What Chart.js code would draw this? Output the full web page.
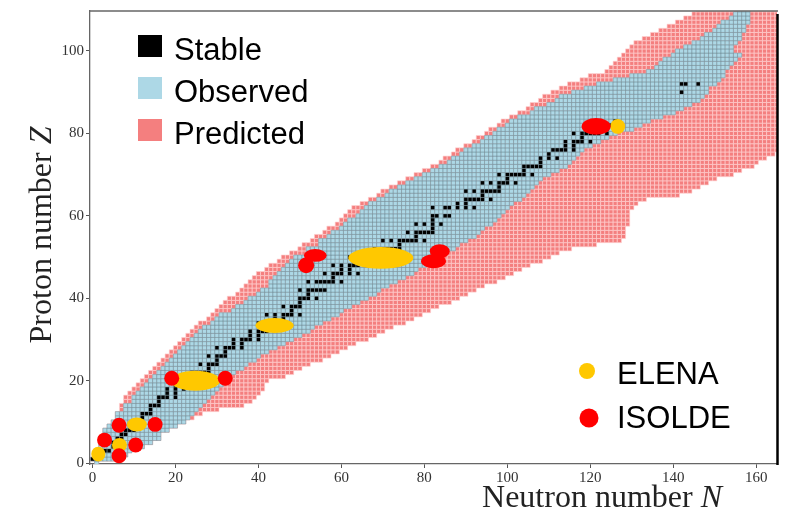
<!DOCTYPE html>
<html>
<head>
<meta charset="utf-8">
<script src="https://cdn.jsdelivr.net/npm/chart.js@4.4.0/dist/chart.umd.min.js"></script>
<style>
  html, body { margin: 0; padding: 0; background: #fff; }
</style>
</head>
<body>
<canvas id="myChart" width="789" height="515"></canvas>
<script>
// nuclide chart: for every proton number Z (index) the range of neutron numbers N

// predicted region (pink), lowest and highest N per Z
const predMin = [1,0,1,1,2,2,2,3,3,4,
  5,6,6,7,7,8,8,9,10,11,
  12,13,14,15,16,17,18,19,20,21,
  22,23,24,25,26,28,29,30,31,32,
  33,35,36,37,38,39,40,42,43,45,
  46,48,50,51,53,54,56,57,59,60,
  61,62,63,65,67,69,70,72,74,76,
  78,80,82,84,85,87,88,90,92,93,
  95,96,98,99,101,103,105,106,108,109,
  111,113,115,118,120,124,125,126,127,128,
  129,130,131,133,135,137,139,141,143,145,
  146];
const predMax = [1,6,8,9,12,14,16,16,18,20,
  22,24,26,30,36,38,39,40,41,41,
  42,46,48,50,52,55,57,59,61,63,
  66,68,70,72,75,77,79,81,83,86,
  88,90,92,94,97,99,101,103,105,108,
  110,112,115,121,127,128,128,128,129,129,
  129,129,130,131,133,141,144,146,148,150,
  154,156,159,160,162,164,170,170,170,170,
  170,170,170,170,170,170,170,170,170,170,
  170,170,170,170,170,170,170,170,170,170,
  170,170,170,170,170,170,170,170,170,170,
  170];

// observed region (light blue)
const obsMin = [1,0,1,1,2,2,2,3,3,4,
  5,6,6,8,8,10,10,11,12,13,
  14,15,16,17,18,19,20,21,22,23,
  24,25,26,27,29,30,31,34,35,37,
  38,40,41,43,43,44,45,46,47,48,
  49,52,52,55,55,57,58,60,61,62,
  64,65,66,67,69,71,72,74,76,78,
  80,82,84,86,87,89,90,92,94,95,
  97,98,100,101,103,106,107,110,112,113,
  116,119,122,126,130,134,136,137,138,140,
  141,143,145,147,148,150,151,152,154,155,
  156];
const obsMax = [1,6,8,9,12,14,16,16,18,20,
  22,23,24,25,26,27,28,29,30,31,
  32,33,34,36,37,39,40,42,44,46,
  48,50,52,53,55,57,59,60,62,64,
  66,68,69,71,73,75,77,78,80,82,
  84,85,87,88,90,92,93,94,96,97,
  98,99,100,101,103,104,105,106,107,108,
  110,112,114,115,116,117,118,120,122,124,
  126,130,132,134,137,140,142,144,146,147,
  148,148,150,151,152,152,153,154,155,156,
  154,154,155,156,156,157,157,158,158,158,
  158];

// stable nuclides: N values for each Z
const stableN = [[],[0,1],[1,2],[3,4],[5],[5,6],[6,7],[7,8],[8,9,10],[10],
  [10,11,12],[12],[12,13,14],[14],[14,15,16],[16],[16,17,18,20],[18,20],[18,20,22],[20,22],
  [20,22,23,24,26,28],[24],[24,25,26,27,28],[28],[26,28,29,30],[30],[28,30,31,32],[32],[30,32,33,34,36],[34,36],
  [34,36,37,38,40],[38,40],[38,40,41,42],[42],[40,42,43,44,46],[44,46],[42,44,46,47,48,50],[48],[46,48,49,50],[50],
  [50,51,52,54],[52],[50,52,53,54,55,56],[],[52,54,55,56,57,58,60],[58],[56,58,59,60,62,64],[60,62],[58,60,62,63,64,66],[64],
  [62,64,65,66,67,68,69,70,72,74],[70,72],[68,70,71,72,73,74],[74],[70,72,74,75,76,77,78,80],[78],[76,78,79,80,81,82],[82],[78,80,82,84],[82],
  [82,83,85,86],[],[82,85,86,88,90,92],[88,90],[90,91,92,93,94,96],[94],[90,92,94,95,96,97,98],[98],[94,96,98,99,100,102],[100],
  [98,100,101,102,103,104,106],[104],[104,105,106,107,108],[108],[108,110,112],[110],[111,112,113,114,116],[114,116],[114,116,117,118,120],[118],
  [116,118,119,120,121,122,124],[122,124],[122,124,125,126],[126],[],[],[],[],[],[],
  [142],[],[142,143,146]];

// facilities: centre (N, Z) and extent in N / Z units
const elenaN = [1.4, 6.5, 10.7, 24.8, 43.9, 69.5, 126.6];
const elenaZ = [2.2, 4.4, 9.4, 20.0, 33.4, 49.8, 81.7];
const elenaW = [3.4, 3.6, 4.8, 12.0, 9.2, 15.7, 3.6];
const elenaH = [3.6, 3.4, 3.4, 4.8, 3.6, 5.3, 3.6];

const isoldeN = [2.9, 6.4, 10.4, 6.4, 15.1, 19.1, 32.0, 53.7, 51.5, 83.7, 82.2, 121.4];
const isoldeZ = [5.6, 1.8, 4.4, 9.2, 9.4, 20.6, 20.6, 50.4, 48.0, 51.4, 49.0, 81.7];
const isoldeW = [3.6, 3.6, 3.6, 3.6, 3.6, 3.6, 3.6, 5.5, 3.9, 4.8, 6.0, 7.0];
const isoldeH = [3.6, 3.6, 3.6, 3.6, 3.6, 3.6, 3.6, 3.1, 3.8, 3.4, 3.4, 4.1];

const xTicks = [0, 20, 40, 60, 80, 100, 120, 140, 160];
const yTicks = [0, 20, 40, 60, 80, 100];

// turn the N ranges into one cell per nuclide
function cells(lo, hi) {
    let pts = [];
    for (let z = 0; z < lo.length; z++) {
        for (let n = lo[z]; n <= hi[z]; n++) pts.push({ x: n, y: z });
    }
    return pts;
}
let stablePts = [];
stableN.forEach((list, z) => list.forEach(n => stablePts.push({ x: n, y: z })));

const ellipseData = (ns, zs, ws, hs) => ns.map((n, i) => ({ x: n, y: zs[i], w: ws[i], h: hs[i] }));

// cell side in pixels follows the x scale
function cellRadius(frac) {
    return function (ctx) {
        const s = ctx.chart.scales.x;
        return Math.abs(s.getPixelForValue(1) - s.getPixelForValue(0)) * frac / Math.SQRT2;
    };
}

const YELLOW = '#ffc800';
const RED = '#ff0000';
const BLUE = '#add8e6';
const PINK = '#f47f7f';

const ellipsePlugin = {
    id: 'ellipses',
    afterDatasetsDraw(chart) {
        const ctx = chart.ctx;
        const xs = chart.scales.x, ys = chart.scales.y;
        const pxN = Math.abs(xs.getPixelForValue(1) - xs.getPixelForValue(0));
        const pxZ = Math.abs(ys.getPixelForValue(1) - ys.getPixelForValue(0));
        chart.data.datasets.forEach((ds, i) => {
            if (!ds.ellipse) return;
            const meta = chart.getDatasetMeta(i);
            ctx.save();
            ctx.fillStyle = ds.backgroundColor;
            meta.data.forEach((pt, j) => {
                const d = ds.data[j];
                ctx.beginPath();
                ctx.ellipse(pt.x, pt.y, d.w * pxN / 2, d.h * pxZ / 2, 0, 0, Math.PI * 2);
                ctx.fill();
            });
            ctx.restore();
        });
    }
};

// frame, axis titles and the two legends
const decorPlugin = {
    id: 'decor',
    afterDraw(chart) {
        const ctx = chart.ctx;
        const a = chart.chartArea;
        ctx.save();
        ctx.strokeStyle = '#666';
        ctx.lineWidth = 1.3;
        ctx.beginPath();
        ctx.moveTo(a.left, a.top);
        ctx.lineTo(a.right + 1, a.top);
        ctx.stroke();
        ctx.strokeStyle = '#000';
        ctx.lineWidth = 2.5;
        ctx.beginPath();
        ctx.moveTo(a.right + 0.5, a.top + 3);
        ctx.lineTo(a.right + 0.5, a.bottom + 1);
        ctx.stroke();

        // axis titles
        ctx.fillStyle = '#222';
        ctx.textBaseline = 'alphabetic';
        ctx.textAlign = 'left';
        const up = '32px "Liberation Serif"', it = 'italic 32px "Liberation Serif"';
        ctx.font = up;
        let w1 = ctx.measureText('Neutron number ').width;
        ctx.font = it;
        let w2 = ctx.measureText('N').width;
        let x0 = 602 - (w1 + w2) / 2;
        ctx.font = up;
        ctx.fillText('Neutron number ', x0, 507);
        ctx.font = it;
        ctx.fillText('N', x0 + w1, 507);

        ctx.save();
        ctx.translate(51, 235);
        ctx.rotate(-Math.PI / 2);
        ctx.font = up;
        w1 = ctx.measureText('Proton number ').width;
        ctx.font = it;
        w2 = ctx.measureText('Z').width;
        x0 = -(w1 + w2) / 2;
        ctx.font = up;
        ctx.fillText('Proton number ', x0, 0);
        ctx.font = it;
        ctx.fillText('Z', x0 + w1, 0);
        ctx.restore();

        // legend of the regions
        const rows = [['Stable', '#000', 60], ['Observed', BLUE, 102], ['Predicted', PINK, 144]];
        ctx.font = '31px "Liberation Sans"';
        rows.forEach(r => {
            ctx.fillStyle = r[1];
            ctx.fillRect(138, r[2] - 25, 24, 22);
            ctx.fillStyle = '#000';
            ctx.fillText(r[0], 174, r[2]);
        });

        // legend of the facilities
        const fac = [['ELENA', YELLOW, 587, 371, 8, 384], ['ISOLDE', RED, 589, 418, 9.5, 428]];
        fac.forEach(f => {
            ctx.fillStyle = f[1];
            ctx.beginPath();
            ctx.arc(f[2], f[3], f[4], 0, Math.PI * 2);
            ctx.fill();
            ctx.fillStyle = '#000';
            ctx.fillText(f[0], 617, f[5]);
        });
        ctx.restore();
    }
};

const tickFont = { family: 'Liberation Serif', size: 15 };

const ctx = document.getElementById('myChart').getContext('2d');
const myChart = new Chart(ctx, {
    type: 'scatter',
    data: {
        datasets: [
            {
                label: 'Predicted',
                data: cells(predMin, predMax),
                pointStyle: 'rect',
                pointRadius: cellRadius(1.0),
                backgroundColor: PINK,
                borderColor: 'rgba(255,210,210,0.9)',
                borderWidth: 0.7,
                clip: 0,
                order: 5
            },
            {
                label: 'Observed',
                data: cells(obsMin, obsMax),
                pointStyle: 'rect',
                pointRadius: cellRadius(1.0),
                backgroundColor: BLUE,
                borderColor: 'rgba(100,128,138,0.6)',
                borderWidth: 0.7,
                clip: 0,
                order: 4
            },
            {
                label: 'Stable',
                data: stablePts,
                pointStyle: 'rect',
                pointRadius: cellRadius(0.85),
                backgroundColor: '#000',
                borderWidth: 0,
                clip: 0,
                order: 3
            },
            {
                label: 'ELENA',
                ellipse: true,
                data: ellipseData(elenaN, elenaZ, elenaW, elenaH),
                pointRadius: 0,
                backgroundColor: YELLOW,
                order: 2
            },
            {
                label: 'ISOLDE',
                ellipse: true,
                data: ellipseData(isoldeN, isoldeZ, isoldeW, isoldeH),
                pointRadius: 0,
                backgroundColor: RED,
                order: 1
            }
        ]
    },
    options: {
        responsive: false,
        animation: false,
        events: [],
        layout: {
            padding: { top: 6, right: 12, left: 0, bottom: 0 }
        },
        plugins: {
            legend: { display: false },
            tooltip: { enabled: false }
        },
        scales: {
            x: {
                type: 'linear',
                min: -0.6,
                max: 165,
                afterBuildTicks: s => { s.ticks = xTicks.map(v => ({ value: v })); },
                afterFit: s => { s.height = 51; },
                grid: { drawOnChartArea: false, drawTicks: true, tickLength: 4, color: '#555' },
                border: { display: true, color: '#666', width: 1.3 },
                ticks: { font: tickFont, color: '#333', padding: 1, maxRotation: 0 }
            },
            y: {
                type: 'linear',
                min: -0.2,
                max: 109.7,
                afterBuildTicks: s => { s.ticks = yTicks.map(v => ({ value: v })); },
                afterFit: s => { s.width = 90; },
                grid: { drawOnChartArea: false, drawTicks: true, tickLength: 4, color: '#555' },
                border: { display: true, color: '#666', width: 1.3 },
                ticks: { font: tickFont, color: '#333', padding: 2 }
            }
        }
    },
    plugins: [ellipsePlugin, decorPlugin]
});
</script>
</body>
</html>
